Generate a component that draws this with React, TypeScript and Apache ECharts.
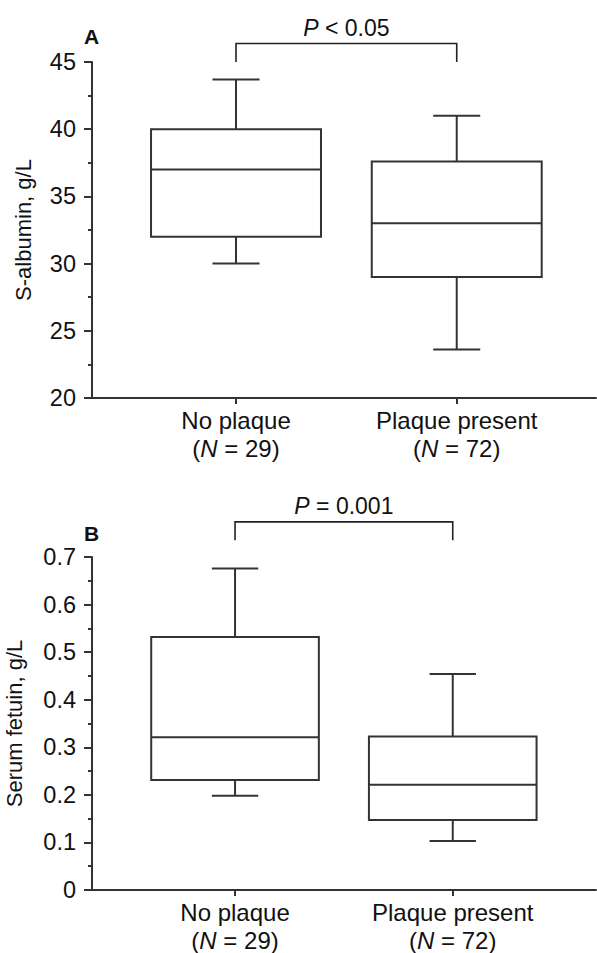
import React, { useEffect, useRef } from "react";
import * as echarts from "echarts";

const FONT = '"Liberation Sans", Arial, Helvetica, sans-serif';
const INK = "#333";
const TEXT = "#111";
const FS = 24;

// ---- data ----
const categories = ["No plaque", "Plaque present"];
const groupN = [29, 72];
const categoryPos = [1, 2];
// [min, Q1, median, Q3, max]
const albuminStats = [
  [30, 32, 37, 40, 43.7],
  [23.6, 29, 33, 37.6, 41],
];
const fetuinStats = [
  [0.198, 0.231, 0.321, 0.532, 0.676],
  [0.103, 0.147, 0.221, 0.3225, 0.454],
];
const pLabels = ["P < 0.05", "P = 0.001"];
const bracketBase = [45, 0.735];
const panelLetters = ["A", "B"];
const yNames = ["S-albumin, g/L", "Serum fetuin, g/L"];

const BOX_W = 0.77;
const CAP_W = 0.213;

function boxRender(params: any, api: any) {
  const x = api.value(0);
  const lo = api.coord([x, api.value(1)]);
  const q1 = api.coord([x, api.value(2)]);
  const med = api.coord([x, api.value(3)]);
  const q3 = api.coord([x, api.value(4)]);
  const hi = api.coord([x, api.value(5)]);
  const half = api.size([BOX_W, 0])[0] / 2;
  const capHalf = api.size([CAP_W, 0])[0] / 2;
  const cx = med[0];
  const st = { stroke: INK, lineWidth: 2, fill: null };
  return {
    type: "group",
    children: [
      { type: "line", shape: { x1: cx, y1: q3[1], x2: cx, y2: hi[1] }, style: st },
      { type: "line", shape: { x1: cx - capHalf, y1: hi[1], x2: cx + capHalf, y2: hi[1] }, style: st },
      { type: "line", shape: { x1: cx, y1: q1[1], x2: cx, y2: lo[1] }, style: st },
      { type: "line", shape: { x1: cx - capHalf, y1: lo[1], x2: cx + capHalf, y2: lo[1] }, style: st },
      {
        type: "rect",
        shape: { x: cx - half, y: q3[1], width: 2 * half, height: q1[1] - q3[1] },
        style: { stroke: INK, lineWidth: 2, fill: "#fff" },
      },
      { type: "line", shape: { x1: cx - half, y1: med[1], x2: cx + half, y2: med[1] }, style: st },
    ],
  };
}

function bracketRender(params: any, api: any) {
  const p1 = api.coord([api.value(0), api.value(2)]);
  const p2 = api.coord([api.value(1), api.value(2)]);
  const rise = 18.5;
  const top = p1[1] - rise;
  const label = pLabels[params.seriesIndex === 1 ? 0 : 1];
  return {
    type: "group",
    children: [
      {
        type: "polyline",
        shape: { points: [[p1[0], p1[1]], [p1[0], top], [p2[0], top], [p2[0], p2[1]]] },
        style: { stroke: "#222", lineWidth: 1.6, fill: null },
      },
      {
        type: "text",
        x: (p1[0] + p2[0]) / 2,
        y: top - 4,
        style: {
          text: "{i|" + label.slice(0, 1) + "}" + label.slice(1),
          rich: { i: { fontStyle: "italic", fontSize: 23, fontFamily: FONT, fill: TEXT } },
          fontSize: 23,
          fontFamily: FONT,
          fill: TEXT,
          align: "center",
          verticalAlign: "bottom",
        },
      },
    ],
  };
}

function catLabel(v: number) {
  const i = categoryPos.indexOf(Math.round(v));
  if (i < 0) return "";
  return categories[i] + "\n({i|N} = " + groupN[i] + ")";
}

export default function App() {
  const ref = useRef<HTMLDivElement>(null);
  useEffect(() => {
    if (!ref.current) return;
    const chart = echarts.init(ref.current, null, { renderer: "svg" });
    const axisLine = { show: true, lineStyle: { color: INK, width: 2 } };
    const xAxisCommon = (min: number, max: number, gridIndex: number) => ({
      type: "value",
      gridIndex,
      min,
      max,
      axisLine,
      splitLine: { show: false },
      axisTick: { show: true, customValues: categoryPos, length: 6, lineStyle: { color: INK, width: 2 } },
      axisLabel: {
        customValues: categoryPos,
        formatter: catLabel,
        fontSize: FS,
        lineHeight: 28,
        fontFamily: FONT,
        color: TEXT,
        margin: 8,
        rich: { i: { fontStyle: "italic", fontSize: FS, fontFamily: FONT, color: TEXT } },
      },
    });
    const yAxisCommon = (gridIndex: number, min: number, max: number, interval: number, name: string, nameGap: number, fmt: (v: number) => string) => ({
      type: "value",
      gridIndex,
      min,
      max,
      interval,
      name,
      nameLocation: "middle",
      nameGap,
      nameTextStyle: { fontSize: 22, fontFamily: FONT, color: TEXT },
      axisLine,
      splitLine: { show: false },
      axisTick: { show: true, length: 8, lineStyle: { color: INK, width: 2 } },
      minorTick: { show: true, splitNumber: 2, length: 4, lineStyle: { color: INK, width: 2 } },
      axisLabel: { fontSize: 23.5, fontFamily: FONT, color: TEXT, margin: 16, formatter: fmt },
    });
    chart.setOption({
      animation: false,
      grid: [
        { left: 92, top: 62, width: 504, height: 336, containLabel: false, outerBoundsMode: "none" },
        { left: 92, top: 557, width: 504, height: 333, containLabel: false, outerBoundsMode: "none" },
      ],
      xAxis: [xAxisCommon(0.3475, 2.631, 0), xAxisCommon(0.343, 2.658, 1)],
      yAxis: [
        yAxisCommon(0, 20, 45, 5, yNames[0], 58, (v) => String(v)),
        yAxisCommon(1, 0, 0.7, 0.1, yNames[1], 67, (v) => (v === 0 ? "0" : v.toFixed(1))),
      ],
      graphic: panelLetters.map((t, i) => ({
        type: "text",
        left: 84,
        top: i === 0 ? 26 : 523,
        style: { text: t, fontSize: 21, fontWeight: "bold", fontFamily: FONT, fill: TEXT },
      })),
      series: [
        {
          type: "custom",
          xAxisIndex: 0,
          yAxisIndex: 0,
          renderItem: boxRender,
          encode: { x: 0, y: [1, 2, 3, 4, 5] },
          data: albuminStats.map((s, i) => [categoryPos[i], ...s]),
          clip: false,
          silent: true,
        },
        {
          type: "custom",
          xAxisIndex: 0,
          yAxisIndex: 0,
          renderItem: bracketRender,
          encode: { x: [0, 1], y: 2 },
          data: [[categoryPos[0], categoryPos[1], bracketBase[0]]],
          clip: false,
          silent: true,
        },
        {
          type: "custom",
          xAxisIndex: 1,
          yAxisIndex: 1,
          renderItem: boxRender,
          encode: { x: 0, y: [1, 2, 3, 4, 5] },
          data: fetuinStats.map((s, i) => [categoryPos[i], ...s]),
          clip: false,
          silent: true,
        },
        {
          type: "custom",
          xAxisIndex: 1,
          yAxisIndex: 1,
          renderItem: bracketRender,
          encode: { x: [0, 1], y: 2 },
          data: [[categoryPos[0], categoryPos[1], bracketBase[1]]],
          clip: false,
          silent: true,
        },
      ],
    });
    return () => chart.dispose();
  }, []);
  return <div ref={ref} style={{ position: "fixed", left: 0, top: 0, width: 597, height: 953, background: "#fff" }} />;
}
